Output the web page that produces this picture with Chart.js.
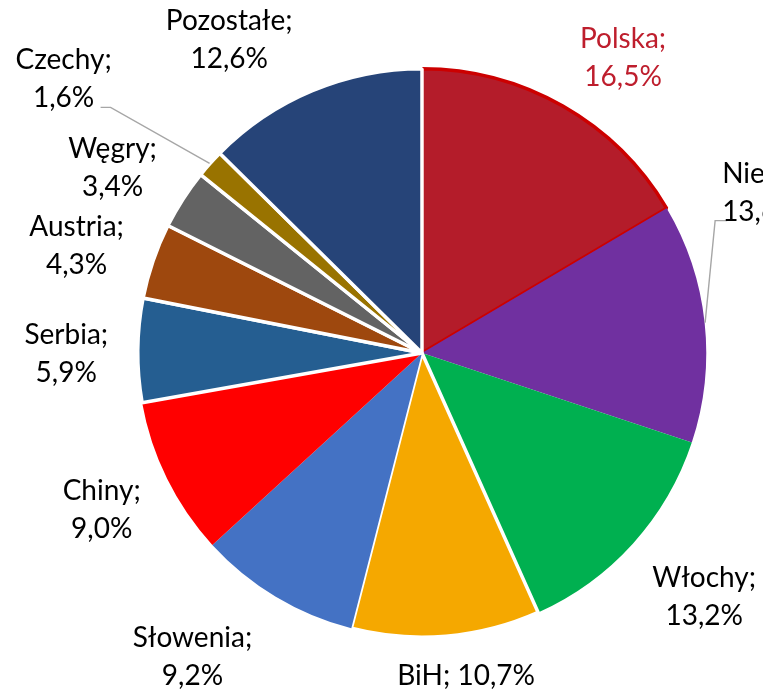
<!DOCTYPE html>
<html><head><meta charset="utf-8">
<script src="https://cdn.jsdelivr.net/npm/chart.js@4"></script>
<style>html,body{margin:0;padding:0;background:#fff;overflow:hidden}canvas{display:block}</style>
</head><body>
<canvas id="c" width="763" height="693"></canvas>
<script>
// ---- data ----
const categories = ['Polska','Niemcy','Włochy','BiH','Słowenia','Chiny','Serbia','Austria','Węgry','Czechy','Pozostałe'];
const shares = [16.5, 13.6, 13.2, 10.7, 9.2, 9.0, 5.9, 4.3, 3.4, 1.6, 12.6];

// ---- styles ----
const fillColors = ['#B41C2A','#7030A0','#00B050','#F5A800','#4472C4','#FF0000','#255E91','#9E480E','#636363','#997300','#264478'];
const borderColors = ['#CC0000','#ffffff','#ffffff','#ffffff','#ffffff','#ffffff','#ffffff','#ffffff','#ffffff','#ffffff','#ffffff'];
const borderWidths = [3.5, 0, 0, 3.5, 0, 0, 3.5, 3.5, 3.5, 3.5, 3.5];
const labelColors = ['#BE1E2D','#000','#000','#000','#000','#000','#000','#000','#000','#000','#000'];
// label placement relative to the slice's outer edge at its mid-angle
const labelLayout = [
  {dx: 60, dy: -58},
  {dx: 17, dy: -140, align: 'left', leader: [[-7, 38], [5, 38]]},
  {dx: 71, dy: 43},
  {dx: 20, dy: 48, oneLine: true},
  {dx: -83, dy: 50},
  {dx: -65, dy: 21},
  {dx: -71, dy: -6},
  {dx: -76, dy: -25},
  {dx: -70, dy: -41},
  {dx: -146, dy: -94, leader: [[47, 38], [37, 38]]},
  {dx: -83, dy: -60}
];
const fmt = v => v.toFixed(1).replace('.', ',') + '%';

const labelPlugin = {
  id: 'sliceLabels',
  afterDatasetsDraw(chart) {
    const ctx = chart.ctx;
    const meta = chart.getDatasetMeta(0);
    ctx.save();
    ctx.font = '28px Lato';
    ctx.textBaseline = 'alphabetic';
    meta.data.forEach((arc, i) => {
      const p = arc.getProps(['x','y','startAngle','endAngle','outerRadius'], true);
      const mid = (p.startAngle + p.endAngle) / 2;
      const R = p.outerRadius + 0.5;
      const ex = p.x + Math.cos(mid) * R, ey = p.y + Math.sin(mid) * R;
      const L = labelLayout[i];
      const ax = ex + L.dx, ay = ey + L.dy;
      if (L.leader) {
        ctx.beginPath();
        ctx.strokeStyle = '#A6A6A6';
        ctx.lineWidth = 1.4;
        ctx.moveTo(ex, ey);
        L.leader.forEach(pt => ctx.lineTo(ax + pt[0], ay + pt[1]));
        ctx.stroke();
      }
      const lines = L.oneLine ? [categories[i] + '; ' + fmt(shares[i])] : [categories[i] + ';', fmt(shares[i])];
      ctx.fillStyle = labelColors[i];
      ctx.textAlign = L.align || 'center';
      lines.forEach((t, k) => ctx.fillText(t, ax, ay + k * 38));
    });
    ctx.restore();
  }
};

function draw() {
  new Chart(document.getElementById('c'), {
    type: 'pie',
    data: {
      labels: categories,
      datasets: [{
        data: shares,
        backgroundColor: fillColors,
        borderColor: borderColors,
        borderWidth: borderWidths
      }]
    },
    options: {
      responsive: false,
      devicePixelRatio: 1,
      animation: false,
      layout: {padding: {left: 136, right: 55, top: 67, bottom: 54}},
      plugins: {legend: {display: false}, tooltip: {enabled: false}}
    },
    plugins: [labelPlugin]
  });
}
if (document.fonts && document.fonts.load) {
  document.fonts.load('28px Lato').then(draw, draw);
} else { draw(); }
</script>
</body></html>
